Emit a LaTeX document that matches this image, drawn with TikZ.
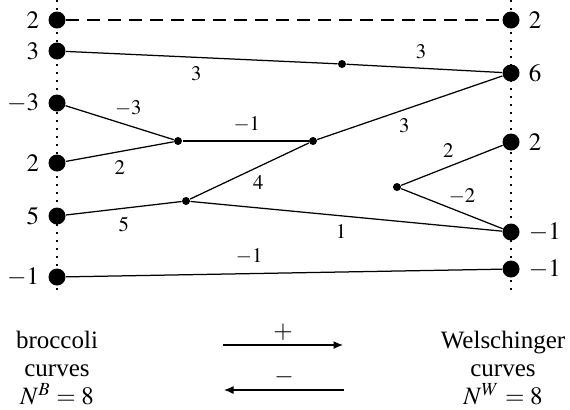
\documentclass[tikz,border=0pt]{standalone}
\usepackage{mathptmx}
\usepackage[no-math]{fontspec}
\setmainfont{Liberation Serif}
\usetikzlibrary{arrows.meta}

\begin{document}
\begin{tikzpicture}[x=0.4pt,y=-0.4pt,>={Latex[length=3.8pt,width=3.2pt]},
font=\fontsize{10}{11.2}\selectfont,
leaf/.style={circle,fill,inner sep=0pt,minimum size=6.8pt,label distance=-1.5pt},
vtx/.style={circle,fill,inner sep=0pt,minimum size=3.2pt},
wt/.style={font=\fontsize{8.3}{10}\selectfont},
edge/.style={line width=.5pt},
axis/.style={line width=.6pt,dash pattern=on .6pt off 2.6pt}]
\useasboundingbox (0,0) rectangle (570,409);
% the two sides
\coordinate (lt) at (57,0);\coordinate (lb) at (57,296);
\coordinate (rt) at (511,0);\coordinate (rb) at (511,296);
\draw[axis] (lt)--(lb);\draw[axis] (rt)--(rb);
\node[leaf,label=left:$2$] (l1) at (57,20) {};
\node[leaf,label=left:$3$] (l2) at (57,51) {};
\node[leaf,label=left:$-3$] (l3) at (57,103) {};
\node[leaf,label=left:$2$] (l4) at (57,163) {};
\node[leaf,label=left:$5$] (l5) at (57,216) {};
\node[leaf,label=left:$-1$] (l6) at (57,277) {};
\node[leaf,label=right:$2$] (r1) at (511,20) {};
\node[leaf,label=right:$6$] (r2) at (511,73) {};
\node[leaf,label=right:$2$] (r3) at (511,142) {};
\node[leaf,label=right:$-1$] (r4) at (511,232) {};
\node[leaf,label=right:$-1$] (r5) at (511,269) {};
% inner vertices
\node[vtx] (a) at (342,64) {};
\node[vtx] (b) at (178,141) {};
\node[vtx] (c) at (313,141) {};
\node[vtx] (d) at (186,201) {};
\node[vtx] (e) at (397,187) {};
% edges
\draw[edge,dash pattern=on 5.2pt off 3.2pt] (l1)--(r1);
\draw[edge] (l2)--node[wt,below,pos=.48]{$3$}(a)--node[wt,above,pos=.48]{$3$}(r2);
\draw[edge] (l3)--node[wt,above,pos=.58]{$-3$}(b);
\draw[edge] (l4)--node[wt,below,pos=.5]{$2$}(b);
\draw[edge] (b)--node[wt,above,pos=.51]{$-1$}(c);
\draw[edge] (c)--node[wt,below,pos=.47]{$3$}(r2);
\draw[edge] (l5)--node[wt,below,pos=.5]{$5$}(d);
\draw[edge] (d)--node[wt,below,pos=.575]{$4$}(c);
\draw[edge] (d)--node[wt,below,pos=.483]{$1$}(r4);
\draw[edge] (e)--node[wt,above,pos=.465]{$2$}(r3);
\draw[edge] (e)--node[wt,above,pos=.6]{$-2$}(r4);
\draw[edge] (l6)--node[wt,above,pos=.42]{$-1$}(r5);
% legend
\node[align=center,inner sep=0pt] (bro) at (57,368) {broccoli\\curves\\$N^B=8$};
\node[align=center,inner sep=0pt] (wel) at (503,368) {Welschinger\\curves\\$N^W=8$};
\coordinate (p1) at (223,345);\coordinate (p2) at (343,345);
\coordinate (m1) at (224,390);\coordinate (m2) at (344,390);
\draw[edge,->] (p1)--node[above,inner sep=1.5pt]{$+$}(p2);
\draw[edge,<-] (m1)--node[above,inner sep=1.5pt]{$-$}(m2);
\end{tikzpicture}
\end{document}
